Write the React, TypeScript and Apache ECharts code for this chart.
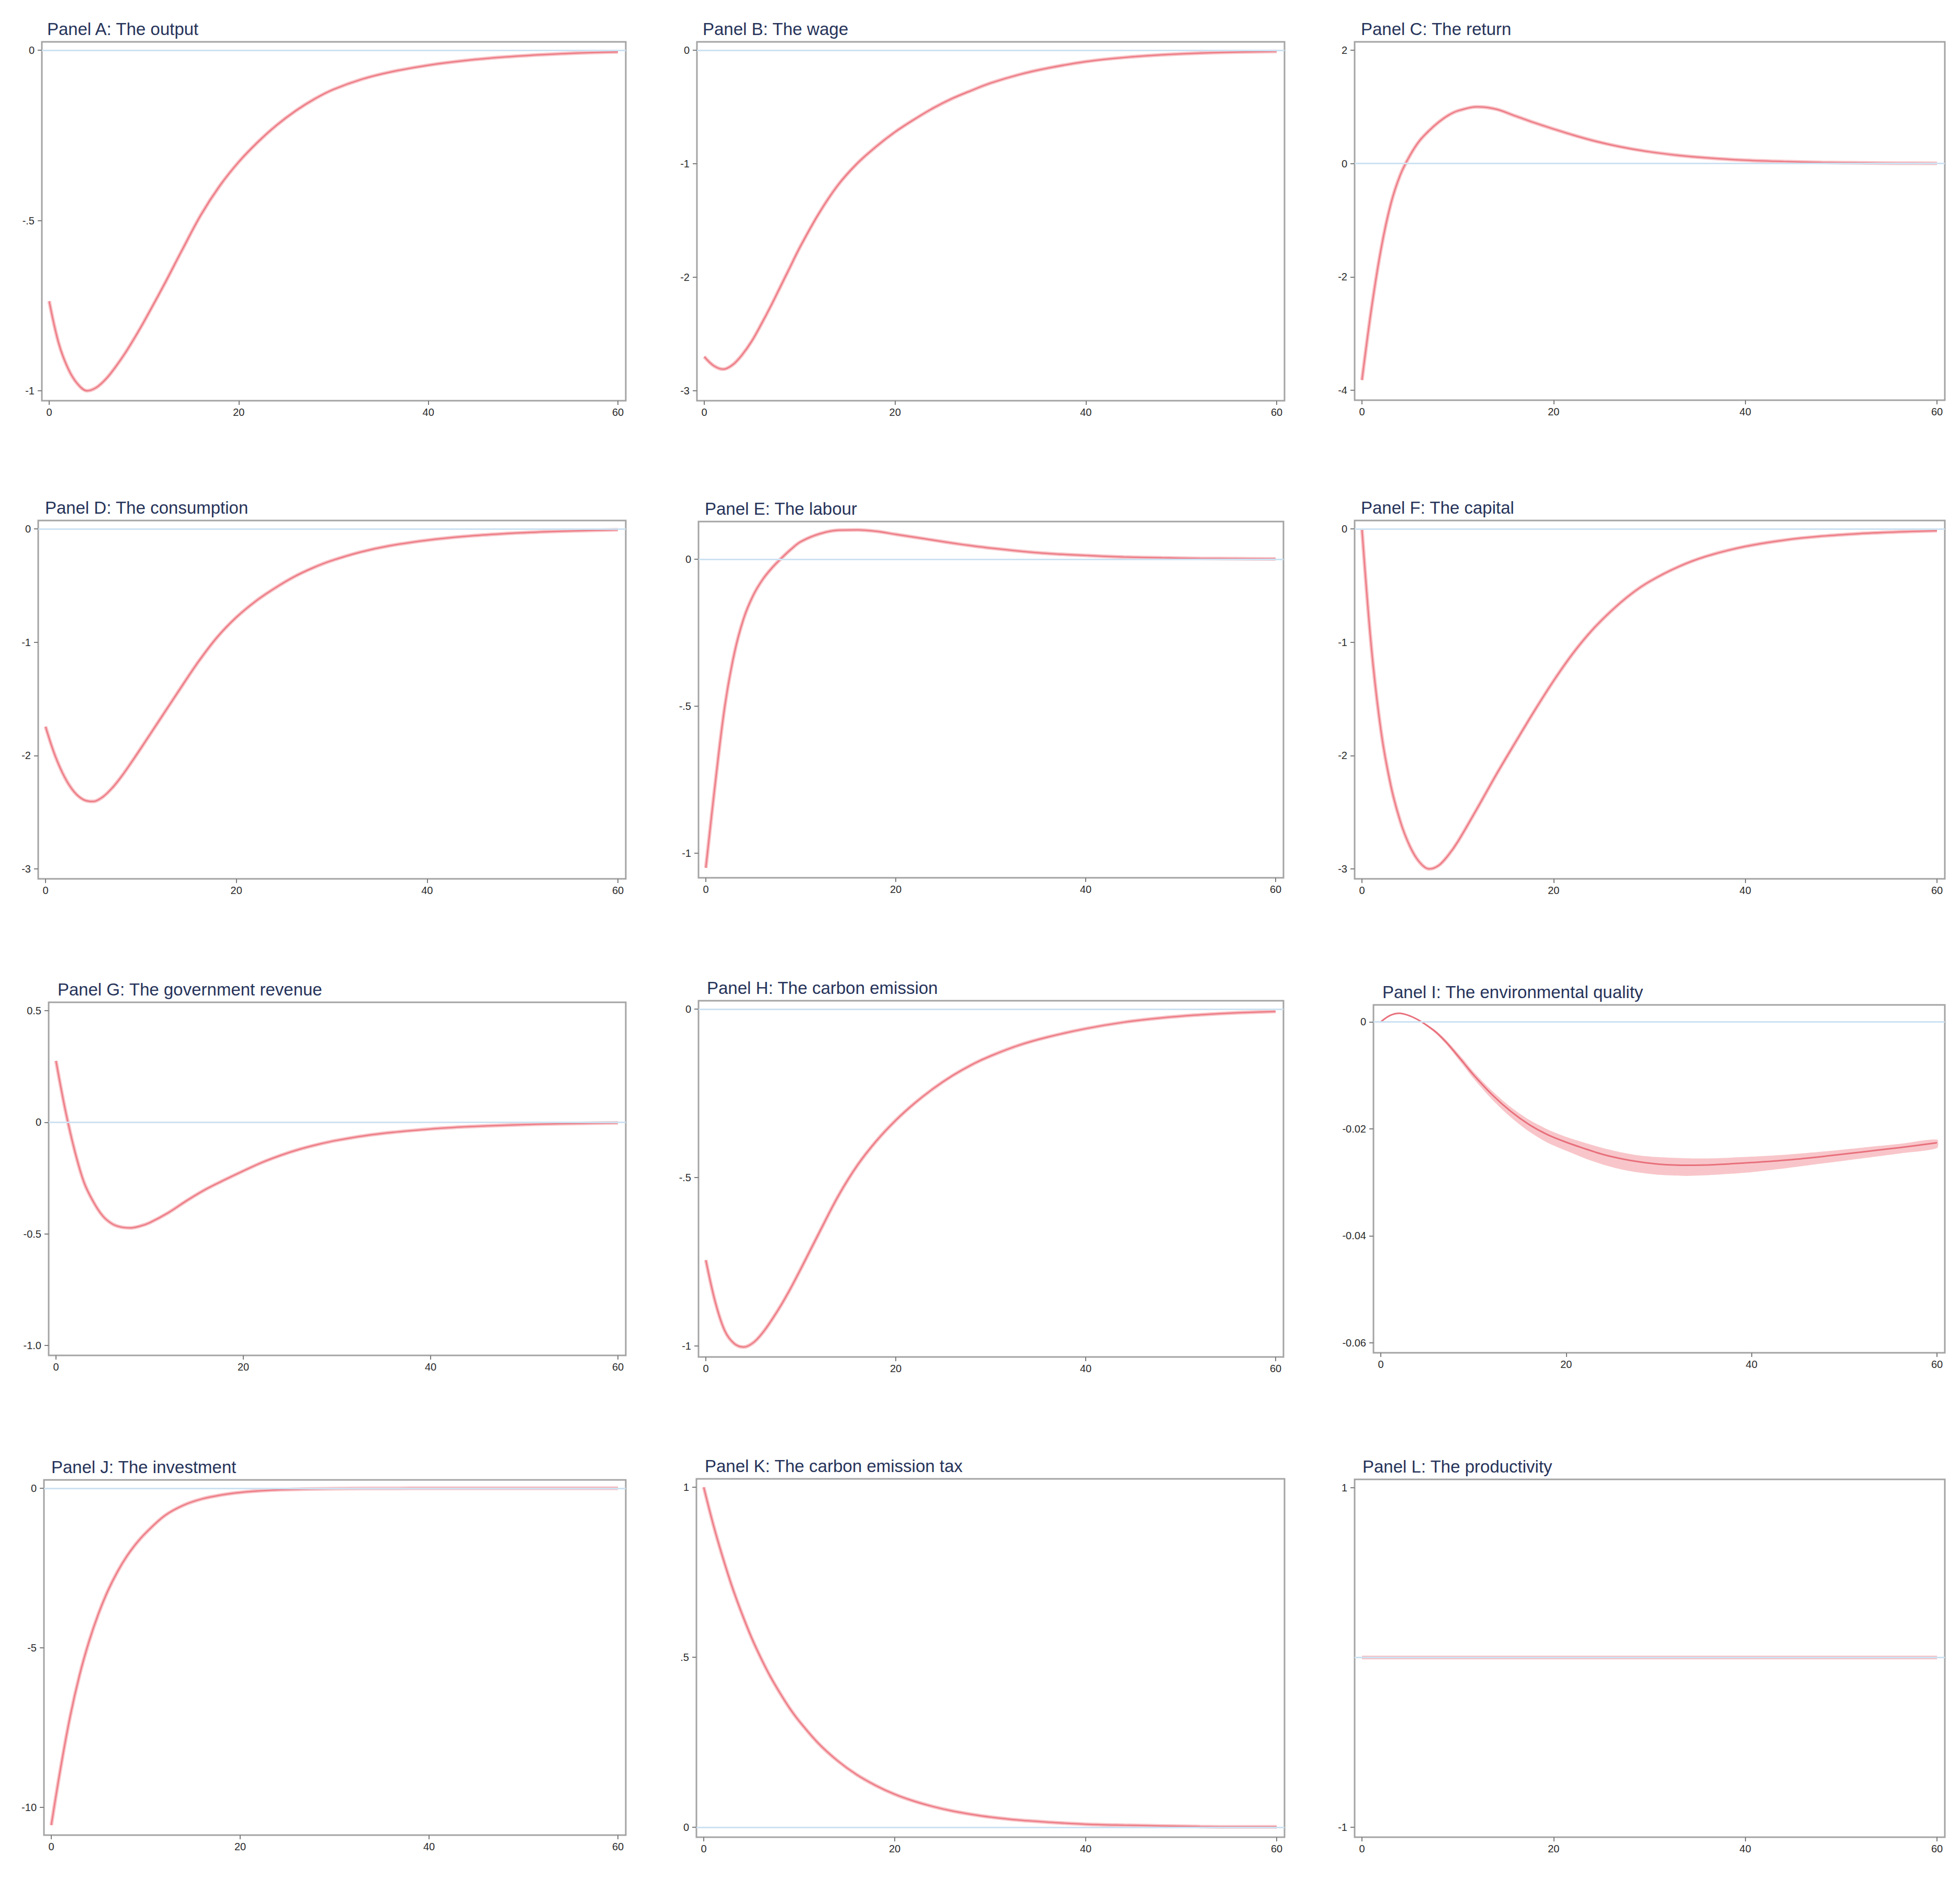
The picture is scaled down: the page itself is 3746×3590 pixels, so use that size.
import React, { useEffect, useRef } from "react";
import * as echarts from "echarts";

// ---------- data ----------
const periods = [0, 1, 2, 3, 4, 5, 6, 7, 8, 9, 10, 12, 14, 16, 18, 20, 22, 24, 26, 28, 30, 33, 36, 40, 44, 48, 52, 56, 60];
const xTicks = [0, 20, 40, 60];

const outputVals = [-0.737, -0.86, -0.935, -0.98, -1.0, -0.99, -0.965, -0.93, -0.89, -0.845, -0.797, -0.695, -0.588, -0.484, -0.398, -0.328, -0.27, -0.22, -0.178, -0.143, -0.115, -0.085, -0.064, -0.044, -0.03, -0.02, -0.013, -0.008, -0.005];
const wageVals = [-2.7, -2.78, -2.81, -2.77, -2.68, -2.56, -2.41, -2.25, -2.08, -1.91, -1.74, -1.44, -1.19, -1.0, -0.85, -0.72, -0.61, -0.51, -0.425, -0.355, -0.29, -0.215, -0.158, -0.1, -0.064, -0.04, -0.025, -0.016, -0.01];
const returnVals = [-3.82, -2.55, -1.5, -0.72, -0.2, 0.14, 0.4, 0.58, 0.73, 0.85, 0.93, 1.0, 0.96, 0.84, 0.72, 0.61, 0.505, 0.41, 0.33, 0.263, 0.208, 0.145, 0.1, 0.06, 0.036, 0.021, 0.012, 0.007, 0.004];
const consumptionVals = [-1.745, -2.0, -2.19, -2.32, -2.39, -2.405, -2.365, -2.285, -2.18, -2.06, -1.935, -1.68, -1.425, -1.175, -0.955, -0.78, -0.64, -0.525, -0.425, -0.345, -0.28, -0.205, -0.15, -0.1, -0.066, -0.043, -0.027, -0.016, -0.008];
const labourVals = [-1.05, -0.76, -0.5, -0.32, -0.2, -0.122, -0.068, -0.028, 0.005, 0.035, 0.06, 0.087, 0.099, 0.1, 0.095, 0.085, 0.075, 0.065, 0.055, 0.046, 0.038, 0.028, 0.02, 0.013, 0.008, 0.005, 0.003, 0.002, 0.001];
const capitalVals = [0, -1.06, -1.79, -2.26, -2.58, -2.8, -2.94, -3.0, -2.97, -2.88, -2.76, -2.47, -2.17, -1.885, -1.605, -1.34, -1.1, -0.895, -0.725, -0.58, -0.465, -0.335, -0.24, -0.155, -0.1, -0.064, -0.041, -0.026, -0.016];
const revenueVals = [0.275, 0.054, -0.128, -0.27, -0.357, -0.42, -0.455, -0.47, -0.473, -0.465, -0.45, -0.405, -0.35, -0.3, -0.258, -0.218, -0.18, -0.148, -0.121, -0.099, -0.081, -0.06, -0.045, -0.03, -0.02, -0.013, -0.008, -0.005, -0.003];
const emissionVals = [-0.745, -0.87, -0.955, -0.993, -1.003, -0.99, -0.96, -0.92, -0.875, -0.825, -0.771, -0.66, -0.552, -0.462, -0.39, -0.33, -0.279, -0.235, -0.197, -0.165, -0.139, -0.107, -0.083, -0.058, -0.039, -0.026, -0.017, -0.011, -0.007];
const envVals = [0, 0.0012, 0.0016, 0.0012, 0.0004, -0.0007, -0.002, -0.0037, -0.0057, -0.0078, -0.0099, -0.0136, -0.0167, -0.0192, -0.0211, -0.0225, -0.0237, -0.0248, -0.0256, -0.0262, -0.0266, -0.0268, -0.0267, -0.0263, -0.0258, -0.0251, -0.0243, -0.0235, -0.0226];
const envUpper = [0, 0.0012, 0.0016, 0.0013, 0.0005, -0.0005, -0.0017, -0.0033, -0.0052, -0.0072, -0.0093, -0.0129, -0.0159, -0.0183, -0.0201, -0.0215, -0.0226, -0.0236, -0.0244, -0.025, -0.0253, -0.0255, -0.0255, -0.0252, -0.0248, -0.0242, -0.0235, -0.0228, -0.022];
const envLower = [0, 0.0011, 0.0015, 0.0011, 0.0003, -0.0009, -0.0023, -0.0041, -0.0062, -0.0084, -0.0106, -0.0145, -0.0178, -0.0205, -0.0226, -0.0241, -0.0255, -0.0267, -0.0276, -0.0282, -0.0286, -0.0288, -0.0286, -0.0281, -0.0273, -0.0264, -0.0255, -0.0246, -0.0236];
const investmentVals = [-10.56, -8.75, -7.15, -5.85, -4.8, -3.93, -3.21, -2.62, -2.13, -1.73, -1.4, -0.86, -0.53, -0.33, -0.21, -0.13, -0.082, -0.051, -0.032, -0.02, -0.012, -0.006, -0.003, -0.001, 0, 0, 0, 0, 0];
const taxVals = [1.0, 0.89, 0.793, 0.705, 0.628, 0.558, 0.497, 0.442, 0.394, 0.35, 0.312, 0.247, 0.196, 0.155, 0.123, 0.097, 0.077, 0.061, 0.048, 0.038, 0.03, 0.021, 0.015, 0.009, 0.006, 0.004, 0.002, 0.001, 0.001];
const productivityVals = [0, 0, 0, 0, 0, 0, 0, 0, 0, 0, 0, 0, 0, 0, 0, 0, 0, 0, 0, 0, 0, 0, 0, 0, 0, 0, 0, 0, 0];

const halfTicks = [0, -0.5, -1];
const halfLabels = ["0", "-.5", "-1"];
const threeTicks = [0, -1, -2, -3];
const threeLabels = ["0", "-1", "-2", "-3"];
const returnTicks = [2, 0, -2, -4];
const returnLabels = ["2", "0", "-2", "-4"];
const revenueTicks = [0.5, 0, -0.5, -1];
const revenueLabels = ["0.5", "0", "-0.5", "-1.0"];
const envTicks = [0, -0.02, -0.04, -0.06];
const envLabels = ["0", "-0.02", "-0.04", "-0.06"];
const investmentTicks = [0, -5, -10];
const investmentLabels = ["0", "-5", "-10"];
const taxTicks = [1, 0.5, 0];
const taxLabels = ["1", ".5", "0"];
const productivityTicks = [1, -1];
const productivityLabels = ["1", "-1"];

const titles = [
  "Panel A: The output",
  "Panel B: The wage",
  "Panel C: The return",
  "Panel D: The consumption",
  "Panel E: The labour",
  "Panel F: The capital",
  "Panel G: The government revenue",
  "Panel H: The carbon emission",
  "Panel I: The environmental quality",
  "Panel J: The investment",
  "Panel K: The carbon emission tax",
  "Panel L: The productivity",
];

const panels = [
  { values: outputVals, ticks: halfTicks, labels: halfLabels },
  { values: wageVals, ticks: threeTicks, labels: threeLabels },
  { values: returnVals, ticks: returnTicks, labels: returnLabels },
  { values: consumptionVals, ticks: threeTicks, labels: threeLabels },
  { values: labourVals, ticks: halfTicks, labels: halfLabels },
  { values: capitalVals, ticks: threeTicks, labels: threeLabels },
  { values: revenueVals, ticks: revenueTicks, labels: revenueLabels },
  { values: emissionVals, ticks: halfTicks, labels: halfLabels },
  { values: envVals, ticks: envTicks, labels: envLabels, upper: envUpper, lower: envLower },
  { values: investmentVals, ticks: investmentTicks, labels: investmentLabels },
  { values: taxVals, ticks: taxTicks, labels: taxLabels },
  { values: productivityVals, ticks: productivityTicks, labels: productivityLabels },
];

// ---------- layout (pixels) ----------
const boxes = [
  { left: 80, top: 80, right: 1196, bottom: 766, titleLeft: 90 },
  { left: 1332, top: 80, right: 2455, bottom: 766, titleLeft: 1343 },
  { left: 2589, top: 80, right: 3717, bottom: 765, titleLeft: 2601 },
  { left: 73, top: 995, right: 1196, bottom: 1680, titleLeft: 86 },
  { left: 1335, top: 997, right: 2453, bottom: 1678, titleLeft: 1347 },
  { left: 2589, top: 995, right: 3717, bottom: 1680, titleLeft: 2601 },
  { left: 93, top: 1916, right: 1196, bottom: 2591, titleLeft: 110 },
  { left: 1335, top: 1913, right: 2453, bottom: 2594, titleLeft: 1351 },
  { left: 2625, top: 1921, right: 3717, bottom: 2586, titleLeft: 2642 },
  { left: 84, top: 2829, right: 1196, bottom: 3508, titleLeft: 98 },
  { left: 1331, top: 2827, right: 2455, bottom: 3512, titleLeft: 1347 },
  { left: 2589, top: 2828, right: 3717, bottom: 3512, titleLeft: 2604 },
];

const FONT = "'Liberation Sans', Arial, Helvetica, sans-serif";
const PAD_L = 14, PAD_R = 15, PAD_T = 16, PAD_B = 19;
const SMOOTH = 0.35;

function buildOption() {
  const grid: any[] = [];
  const xAxis: any[] = [];
  const yAxis: any[] = [];
  const title: any[] = [];
  const series: any[] = [];

  panels.forEach((p: any, i: number) => {
    const b = boxes[i];
    const w = b.right - b.left;
    const h = b.bottom - b.top;
    grid.push({
      left: b.left, top: b.top, width: w, height: h,
      show: true, borderColor: "#a4a4a4", borderWidth: 3, backgroundColor: "#ffffff",
    });
    title.push({
      text: titles[i], left: b.titleLeft, top: b.top - 41, padding: 0,
      textStyle: { fontSize: 33, fontWeight: "normal", color: "#26335a", fontFamily: FONT },
    });

    const xLo = xTicks[0], xHi = xTicks[xTicks.length - 1];
    const xUpp = (xHi - xLo) / (w - PAD_L - PAD_R);
    xAxis.push({
      type: "value", gridIndex: i,
      min: xLo - PAD_L * xUpp, max: xHi + PAD_R * xUpp,
      axisLine: { show: false, onZero: false },
      splitLine: { show: false },
      axisTick: { show: true, customValues: xTicks, length: 8, lineStyle: { color: "#7d7d7d", width: 2 } },
      axisLabel: { customValues: xTicks, fontSize: 20, color: "#2a2a2a", margin: 12, fontFamily: FONT },
    });

    const all = [...p.ticks, ...p.values, ...(p.upper || []), ...(p.lower || [])];
    const lo = Math.min(...all), hi = Math.max(...all);
    const yUpp = (hi - lo) / (h - PAD_T - PAD_B);
    const ticks: number[] = p.ticks;
    const labels: string[] = p.labels;
    yAxis.push({
      type: "value", gridIndex: i,
      min: lo - PAD_B * yUpp, max: hi + PAD_T * yUpp,
      axisLine: { show: false, onZero: false },
      splitLine: { show: false },
      axisTick: { show: true, customValues: ticks, length: 8, lineStyle: { color: "#7d7d7d", width: 2 } },
      axisLabel: {
        customValues: ticks, fontSize: 20, color: "#2a2a2a", margin: 14, fontFamily: FONT,
        formatter: (v: number) => {
          const k = ticks.findIndex((t) => Math.abs(t - v) < 1e-9);
          return k >= 0 ? labels[k] : "";
        },
      },
    });

    // zero reference line
    series.push({
      type: "line", xAxisIndex: i, yAxisIndex: i, data: [[0, 0]], symbol: "none", showSymbol: false,
      lineStyle: { opacity: 0 }, silent: true, z: 1,
      markLine: {
        silent: true, symbol: ["none", "none"], label: { show: false },
        lineStyle: { color: "#cde2f2", width: 3, type: "solid" },
        data: [{ yAxis: 0 }],
      },
    });

    const pts = periods.map((t, j) => [t, p.values[j]]);
    if (p.upper && p.lower) {
      const upper: number[] = p.upper;
      const lower: number[] = p.lower;
      series.push({
        type: "custom", xAxisIndex: i, yAxisIndex: i, silent: true, z: 2,
        data: [[0, 0]],
        renderItem: (_params: any, api: any) => {
          const up = periods.map((t, j) => api.coord([t, upper[j]]));
          const dn = periods.map((t, j) => api.coord([t, lower[j]])).reverse();
          return {
            type: "polygon",
            shape: { points: up.concat(dn), smooth: 0.25 },
            style: { fill: "#f8c6ca" },
          };
        },
      });
      series.push({
        type: "line", xAxisIndex: i, yAxisIndex: i, data: pts, symbol: "none", smooth: SMOOTH,
        lineStyle: { color: "#e8707c", width: 3 }, silent: true, z: 3,
      });
    } else {
      series.push({
        type: "line", xAxisIndex: i, yAxisIndex: i, data: pts, symbol: "none", smooth: SMOOTH,
        lineStyle: { color: "#f8c2c6", width: 7 }, silent: true, z: 2,
      });
      series.push({
        type: "line", xAxisIndex: i, yAxisIndex: i, data: pts, symbol: "none", smooth: SMOOTH,
        lineStyle: { color: "#ec7a84", width: 2.5 }, silent: true, z: 3,
      });
    }
  });

  return { animation: false, backgroundColor: "#ffffff", grid, xAxis, yAxis, title, series };
}

export default function App() {
  const ref = useRef<HTMLDivElement>(null);
  useEffect(() => {
    if (!ref.current) return;
    const chart = echarts.init(ref.current, undefined, { renderer: "svg" });
    chart.setOption(buildOption() as any);
    return () => chart.dispose();
  }, []);
  return (
    <div
      ref={ref}
      style={{ position: "absolute", left: 0, top: 0, width: 3746, height: 3590, background: "#fff" }}
    />
  );
}
